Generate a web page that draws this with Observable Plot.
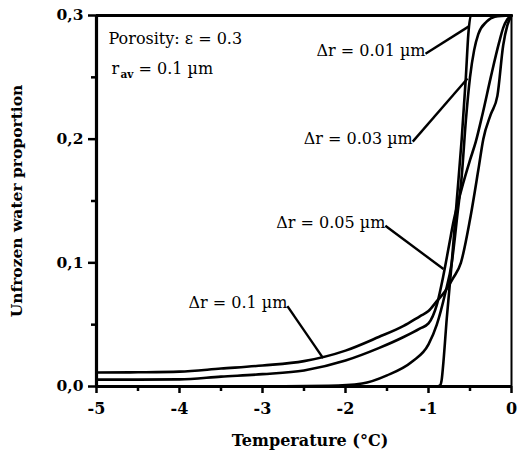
<!DOCTYPE html>
<html><head><meta charset="utf-8">
<script src="https://cdn.jsdelivr.net/npm/d3@7"></script>
<script src="https://cdn.jsdelivr.net/npm/@observablehq/plot@0.6"></script>
<style>body{margin:0;background:#fff}</style>
</head><body><div id="chart"></div>
<script>
// Tick values
const xMajor = [-5, -4, -3, -2, -1, 0];
const xMinor = [-4.5, -3.5, -2.5, -1.5, -0.5];
const yMajor = [0, 0.1, 0.2, 0.3];
const yMinor = [0.05, 0.15, 0.25];

// Series: Δr = 0.01 µm
const t001 = [-5, -1.5, -0.9, -0.86, -0.84, -0.82, -0.78, -0.72, -0.66, -0.6, -0.55, -0.52, -0.49, 0];
const v001 = [0, 0, 0, 0.001, 0.006, 0.02, 0.055, 0.1, 0.15, 0.2, 0.25, 0.285, 0.3, 0.3];
// Series: Δr = 0.03 µm
const t003 = [-5, -3, -2.2, -1.8, -1.5, -1.2, -1.0, -0.9, -0.8, -0.72, -0.65, -0.6, -0.55, -0.5, -0.45, -0.4, -0.3, -0.2, 0];
const v003 = [0, 0, 0.0005, 0.0024, 0.009, 0.02, 0.034, 0.05, 0.075, 0.1, 0.14, 0.17, 0.215, 0.25, 0.272, 0.285, 0.295, 0.299, 0.3];
// Series: Δr = 0.05 µm
const t005 = [-5, -4.5, -4, -3.5, -3, -2.5, -2, -1.6, -1.3, -1.1, -1.0, -0.9, -0.82, -0.75, -0.7, -0.6, -0.5, -0.43, -0.35, -0.25, -0.15, -0.1, -0.05, 0];
const v005 = [0.0056, 0.0056, 0.0058, 0.008, 0.01, 0.013, 0.021, 0.031, 0.04, 0.047, 0.051, 0.066, 0.09, 0.115, 0.133, 0.16, 0.183, 0.198, 0.22, 0.25, 0.278, 0.29, 0.297, 0.3];
// Series: Δr = 0.1 µm
const t01 = [-5, -4.5, -4, -3.5, -3, -2.5, -2, -1.6, -1.3, -1.1, -1.0, -0.9, -0.8, -0.7, -0.61, -0.5, -0.4, -0.34, -0.25, -0.17, -0.1, -0.05, 0];
const v01 = [0.0113, 0.0115, 0.012, 0.0145, 0.017, 0.0205, 0.029, 0.04, 0.049, 0.057, 0.061, 0.069, 0.077, 0.088, 0.1, 0.135, 0.175, 0.2, 0.22, 0.235, 0.276, 0.292, 0.3];

const seriesNames = ["0.01", "0.03", "0.05", "0.1"];
const seriesT = [t001, t003, t005, t01];
const seriesV = [v001, v003, v005, v01];
const rows = seriesNames.flatMap((s, k) => seriesT[k].map((t, i) => ({series: s, t, v: seriesV[k][i]})));

// Labels and leader lines (data units)
const labelTexts = ["Δr = 0.01 µm", "Δr = 0.03 µm", "Δr = 0.05 µm", "Δr = 0.1 µm"];
const labelT = [-1.036, -1.19, -1.52, -2.70];
const labelV = [0.269, 0.198, 0.130, 0.065];
const pointT = [-0.518, -0.53, -0.82, -2.27];
const pointV = [0.291, 0.249, 0.095, 0.023];
const labels = labelTexts.map((text, i) => ({text, x1: labelT[i], y1: labelV[i], x2: pointT[i], y2: pointV[i]}));

const FONT = "DejaVu Serif";

const chart = Plot.plot({
  width: 520,
  height: 453,
  marginLeft: 96,
  marginRight: 9,
  marginTop: 15,
  marginBottom: 67,
  style: {fontFamily: FONT, color: "#000", background: "#fff"},
  x: {domain: [-5, 0]},
  y: {domain: [0, 0.3]},
  marks: [
    Plot.axisX(xMajor, {tickSize: 7, tickPadding: 9, strokeWidth: 2.5, tickFormat: d => String(d), fontSize: 16, fontWeight: "bold", label: null}),
    Plot.axisX(xMinor, {tickSize: 5, strokeWidth: 2.5, text: null, label: null}),
    Plot.axisY(yMajor, {tickSize: 8, tickPadding: 5, strokeWidth: 2.5, tickFormat: d => d.toFixed(1).replace(".", ","), fontSize: 15.5, fontWeight: "bold", label: null}),
    Plot.axisY(yMinor, {tickSize: 5, strokeWidth: 2.5, text: null, label: null}),
    Plot.line(rows, {x: "t", y: "v", z: "series", stroke: "#000", strokeWidth: 2.6, curve: "monotone-x"}),
    Plot.ruleX([-5], {stroke: "#000", strokeWidth: 3.2}),
    Plot.ruleY([0], {stroke: "#000", strokeWidth: 3.2}),
    Plot.ruleY([0.3], {stroke: "#000", strokeWidth: 3}),
    Plot.ruleX([0], {stroke: "#000", strokeWidth: 2}),
    Plot.link(labels, {x1: "x1", y1: "y1", x2: "x2", y2: "y2", stroke: "#000", strokeWidth: 2.4}),
    Plot.text(labels, {x: "x1", y: "y1", text: "text", textAnchor: "end", lineAnchor: "bottom", dy: 2, fontSize: 16, fill: "#000"}),
    Plot.text(["Porosity: ε = 0.3"], {frameAnchor: "top-left", dx: 12, dy: 28, textAnchor: "start", lineAnchor: "bottom", fontSize: 16}),
    Plot.text(["r"], {frameAnchor: "top-left", dx: 15, dy: 58, textAnchor: "start", lineAnchor: "bottom", fontSize: 16}),
    Plot.text(["av"], {frameAnchor: "top-left", dx: 24, dy: 62, textAnchor: "start", lineAnchor: "bottom", fontSize: 10.5, fontWeight: "bold"}),
    Plot.text(["= 0.1 µm"], {frameAnchor: "top-left", dx: 42, dy: 58, textAnchor: "start", lineAnchor: "bottom", fontSize: 16}),
    Plot.text(["Unfrozen water proportion"], {frameAnchor: "left", rotate: -90, dx: -79, textAnchor: "middle", fontSize: 15.5, fontWeight: "bold"}),
    Plot.text(["Temperature (°C)"], {frameAnchor: "bottom", dx: 6, dy: 59, textAnchor: "middle", lineAnchor: "bottom", fontSize: 16, fontWeight: "bold"})
  ]
});
document.getElementById("chart").appendChild(chart);
</script>
</body></html>
